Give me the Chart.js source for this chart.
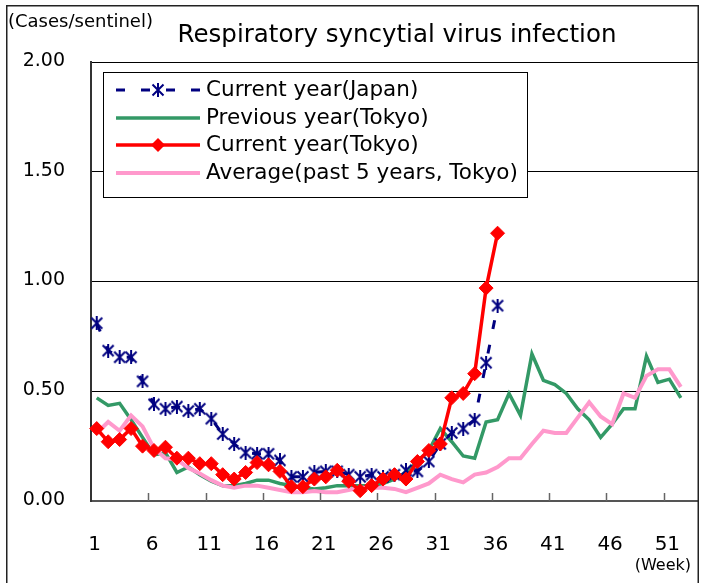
<!DOCTYPE html>
<html>
<head>
<meta charset="utf-8">
<script src="https://cdn.jsdelivr.net/npm/chart.js@4.4.0/dist/chart.umd.min.js"></script>
<style>html,body{margin:0;padding:0;background:#fff}</style>
</head>
<body>
<canvas id="rsvChart" width="701" height="583"></canvas>
<script>
// dados (casos por posto sentinela, por semana)
const weeks = ['1','2','3','4','5','6','7','8','9','10','11','12','13','14','15','16','17','18','19','20',
  '21','22','23','24','25','26','27','28','29','30','31','32','33','34','35','36','37','38','39','40',
  '41','42','43','44','45','46','47','48','49','50','51','52','53'];

const japanCurrent = [0.81,0.685,0.655,0.655,0.545,0.44,0.42,0.43,0.41,0.42,0.375,0.305,0.26,0.22,0.215,0.215,0.185,0.11,0.11,0.13,
  0.135,0.135,0.12,0.11,0.12,0.11,0.12,0.14,0.135,0.18,0.26,0.31,0.33,0.37,0.63,0.89];

const tokyoPrevious = [0.47,0.435,0.445,0.37,0.29,0.21,0.22,0.13,0.155,0.12,0.09,0.07,0.07,0.08,0.095,0.095,0.08,0.07,0.06,0.055,
  0.06,0.07,0.07,0.07,0.07,0.08,0.10,0.13,0.18,0.23,0.33,0.27,0.205,0.195,0.36,0.37,0.49,0.39,0.67,0.55,
  0.53,0.49,0.42,0.37,0.29,0.35,0.42,0.42,0.66,0.54,0.555,0.47];

const tokyoCurrent = [0.33,0.27,0.28,0.33,0.25,0.23,0.245,0.195,0.195,0.17,0.17,0.12,0.10,0.13,0.175,0.165,0.135,0.065,0.065,0.10,
  0.11,0.14,0.09,0.047,0.07,0.10,0.12,0.10,0.18,0.23,0.26,0.47,0.49,0.58,0.97,1.22];

const tokyoAverage = [0.31,0.36,0.32,0.39,0.34,0.24,0.195,0.19,0.15,0.125,0.095,0.07,0.06,0.07,0.07,0.06,0.05,0.04,0.04,0.045,
  0.04,0.04,0.05,0.06,0.06,0.06,0.055,0.04,0.06,0.08,0.12,0.10,0.085,0.12,0.13,0.155,0.195,0.195,0.26,0.32,
  0.31,0.31,0.38,0.45,0.385,0.35,0.49,0.47,0.57,0.60,0.60,0.52];

const labelEvery = 5;

// marcador asterisco (estilo Excel)
function makeAsterisk(size, color) {
  const c = document.createElement('canvas');
  c.width = size; c.height = size;
  const g = c.getContext('2d');
  g.strokeStyle = color;
  g.lineWidth = 2;
  const a = 1.5, b = size - 1.5, h = size / 2;
  g.beginPath();
  g.moveTo(a, a); g.lineTo(b, b);
  g.moveTo(b, a); g.lineTo(a, b);
  g.moveTo(h, 0); g.lineTo(h, size);
  g.stroke();
  return c;
}
const star = makeAsterisk(14, '#000080');

const decor = {
  id: 'decor',
  afterDatasetsDraw(chart) {
    const ctx = chart.ctx;
    // legenda dentro da área do gráfico
    ctx.save();
    ctx.fillStyle = '#fff';
    ctx.fillRect(103, 72, 424, 125);
    ctx.strokeStyle = '#000';
    ctx.lineWidth = 1;
    ctx.strokeRect(103.5, 72.5, 424, 125);
    const rows = [90, 118, 145, 173];
    ctx.font = '21.5px "DejaVu Sans"';
    ctx.textBaseline = 'middle';
    ctx.textAlign = 'left';
    chart.data.datasets.forEach((ds, r) => {
      const y = rows[r];
      ctx.save();
      ctx.strokeStyle = ds.borderColor;
      ctx.lineWidth = ds.borderWidth;
      ctx.setLineDash(ds.borderDash || []);
      ctx.beginPath();
      ctx.moveTo(116, y);
      ctx.lineTo(200, y);
      ctx.stroke();
      ctx.restore();
      if (ds.pointStyle === star) {
        ctx.fillStyle = '#fff';
        ctx.fillRect(151, y - 7, 14, 14);
        ctx.drawImage(star, 151, y - 7);
      } else if (ds.pointStyle === 'rectRot') {
        ctx.fillStyle = ds.pointBackgroundColor;
        ctx.beginPath();
        ctx.moveTo(158, y - 7); ctx.lineTo(165, y); ctx.lineTo(158, y + 7); ctx.lineTo(151, y);
        ctx.closePath();
        ctx.fill();
      }
      ctx.fillStyle = '#000';
      ctx.fillText(ds.label, 206, y);
    });
    ctx.restore();
  },
  afterDraw(chart) {
    const ctx = chart.ctx;
    const xs = chart.scales.x;
    const area = chart.chartArea;
    ctx.save();
    // marcas do eixo x, para dentro
    ctx.strokeStyle = '#666';
    ctx.lineWidth = 1.5;
    for (let k = labelEvery; k < weeks.length; k += labelEvery) {
      const x = Math.round((xs.getPixelForValue(k - 1) + xs.getPixelForValue(k)) / 2) + 0.5;
      ctx.beginPath();
      ctx.moveTo(x, area.bottom);
      ctx.lineTo(x, area.bottom - 8);
      ctx.stroke();
    }
    // textos
    ctx.fillStyle = '#000';
    ctx.textBaseline = 'middle';
    ctx.textAlign = 'center';
    ctx.font = '24.5px "DejaVu Sans"';
    ctx.fillText('Respiratory syncytial virus infection', 397, 36);
    ctx.textAlign = 'left';
    ctx.font = '18px "DejaVu Sans"';
    ctx.fillText('(Cases/sentinel)', 8, 22);
    ctx.textAlign = 'right';
    ctx.font = '16px "DejaVu Sans"';
    ctx.fillText('(Week)', 691, 566);
    // moldura
    ctx.strokeStyle = '#222';
    ctx.lineWidth = 1.5;
    ctx.strokeRect(6.75, 5.75, 691.5, 600);
    ctx.restore();
  }
};

const ctx = document.getElementById('rsvChart').getContext('2d');
const rsvChart = new Chart(ctx, {
  type: 'line',
  data: {
    labels: weeks,
    datasets: [{
      label: 'Current year(Japan)',
      data: japanCurrent,
      borderColor: '#000080',
      borderWidth: 3,
      borderDash: [9, 16],
      pointStyle: star,
      pointRadius: 7,
      order: 1
    }, {
      label: 'Previous year(Tokyo)',
      data: tokyoPrevious,
      borderColor: '#339966',
      borderWidth: 3.5,
      pointRadius: 0,
      order: 3
    }, {
      label: 'Current year(Tokyo)',
      data: tokyoCurrent,
      borderColor: '#ff0000',
      borderWidth: 3.5,
      pointStyle: 'rectRot',
      pointRadius: 7,
      pointBackgroundColor: '#ff0000',
      pointBorderColor: '#ff0000',
      pointBorderWidth: 1,
      order: 0
    }, {
      label: 'Average(past 5 years, Tokyo)',
      data: tokyoAverage,
      borderColor: '#ff99cc',
      borderWidth: 4,
      pointRadius: 0,
      order: 2
    }]
  },
  options: {
    responsive: false,
    animation: false,
    events: [],
    layout: { autoPadding: false, padding: { left: 0, right: 3, top: 62, bottom: 0 } },
    plugins: { legend: { display: false }, title: { display: false }, tooltip: { enabled: false } },
    elements: { line: { tension: 0 } },
    scales: {
      x: {
        type: 'category',
        offset: true,
        grid: { display: false, offset: true },
        border: { display: true, color: '#555', width: 2 },
        ticks: {
          autoSkip: false,
          maxRotation: 0,
          padding: 24,
          labelOffset: -2,
          color: '#000',
          font: { family: 'DejaVu Sans', size: 20 },
          callback: (v, i) => (i % labelEvery === 0 ? weeks[i] : '')
        },
        afterFit: (s) => { s.height = 82; s.paddingLeft = 0; s.paddingRight = 0; }
      },
      y: {
        min: 0,
        max: 2,
        grid: { color: '#000', lineWidth: 1, drawTicks: false },
        border: { display: true, color: '#333', width: 2 },
        ticks: {
          stepSize: 0.5,
          padding: 26,
          labelOffset: -1,
          color: '#000',
          font: { family: 'DejaVu Sans', size: 19 },
          callback: (v) => v.toFixed(2)
        },
        afterFit: (s) => { s.width = 91; }
      }
    }
  },
  plugins: [decor]
});
</script>
</body>
</html>
